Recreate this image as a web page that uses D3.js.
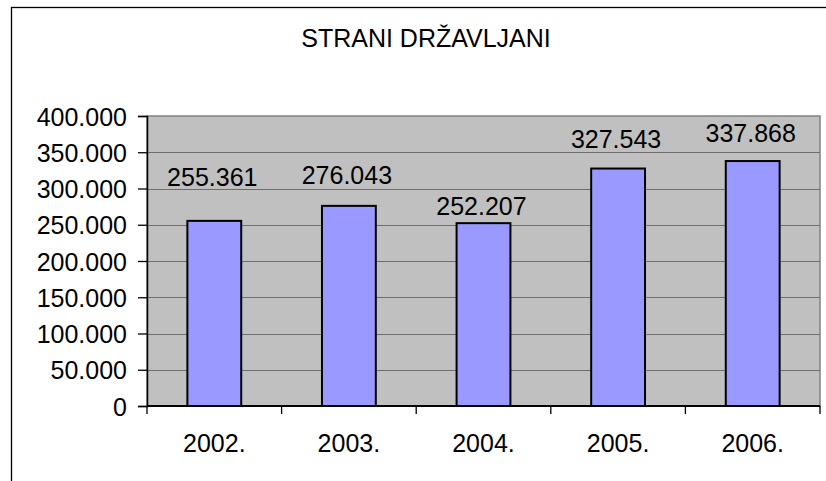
<!DOCTYPE html>
<html>
<head>
<meta charset="utf-8">
<script src="https://cdn.jsdelivr.net/npm/d3@7"></script>
<style>
  html, body { margin: 0; padding: 0; background: #fff; }
  svg { display: block; }
  text { font-family: "Liberation Sans", Arial, sans-serif; fill: #000; }
</style>
</head>
<body>
<svg id="chart" width="826" height="481"></svg>
<script>
// ---- data ----
const title = "STRANI DRŽAVLJANI";
const categories = ["2002.", "2003.", "2004.", "2005.", "2006."];
const values = [255361, 276043, 252207, 327543, 337868];
const valueLabels = ["255.361", "276.043", "252.207", "327.543", "337.868"];
const yTicks = [0, 50000, 100000, 150000, 200000, 250000, 300000, 350000, 400000];
const yTickLabels = ["0", "50.000", "100.000", "150.000", "200.000", "250.000", "300.000", "350.000", "400.000"];

// ---- layout (label lift above bar top, in px) ----
const labelLift = [34.5, 22, 8, 21, 19.5];
const plot = { left: 147, right: 820, top: 116, bottom: 406 };
const fontSize = 25;

const svg = d3.select("#chart");

// outer frame (extends beyond the window on right and bottom)
svg.append("rect")
  .attr("x", 11.5).attr("y", 7.5)
  .attr("width", 900).attr("height", 600)
  .attr("fill", "#fff").attr("stroke", "#000").attr("stroke-width", 1.3);

const x = d3.scaleBand().domain(categories).range([plot.left, plot.right]).paddingInner(0.6).paddingOuter(0.3);
const xb = d3.scaleBand().domain(categories).range([plot.left, plot.right]);
const y = d3.scaleLinear().domain([0, 400000]).range([plot.bottom, plot.top]);

// plot background
svg.append("rect")
  .attr("x", plot.left).attr("y", plot.top)
  .attr("width", plot.right - plot.left).attr("height", plot.bottom - plot.top)
  .attr("fill", "#C0C0C0").attr("stroke", "#808080").attr("stroke-width", 1.5);

// gridlines
svg.append("g").selectAll("line").data(yTicks.filter(d => d > 0 && d < 400000)).join("line")
  .attr("x1", plot.left).attr("x2", plot.right)
  .attr("y1", d => Math.round(y(d)) + 0.5).attr("y2", d => Math.round(y(d)) + 0.5)
  .attr("stroke", "#6e6e6e").attr("stroke-width", 1);

// bars
svg.append("g").selectAll("rect").data(values).join("rect")
  .attr("x", (d, i) => x(categories[i]))
  .attr("y", d => y(d))
  .attr("width", x.bandwidth())
  .attr("height", d => y(0) - y(d))
  .attr("fill", "#9999FF").attr("stroke", "#000").attr("stroke-width", 2);

// y axis
const yAxis = d3.axisLeft(y).tickValues(yTicks).tickFormat((d, i) => yTickLabels[i]).tickSizeOuter(0).tickSize(9).tickPadding(11);
const gy = svg.append("g").attr("transform", `translate(${plot.left},0)`).call(yAxis);
gy.select(".domain").attr("stroke", "#000").attr("stroke-width", 1.5);
gy.selectAll(".tick line").attr("stroke", "#000").attr("stroke-width", 1.3);
gy.selectAll(".tick text").attr("font-size", fontSize).attr("font-family", "Liberation Sans, Arial, sans-serif").attr("fill", "#000").attr("dy", "0.36em");

// x axis
const boundaries = categories.map(c => xb(c)).concat([plot.right]);
const gx = svg.append("g");
gx.append("line").attr("x1", plot.left).attr("x2", plot.right)
  .attr("y1", plot.bottom).attr("y2", plot.bottom).attr("stroke", "#000").attr("stroke-width", 1.8);
gx.selectAll("line.tk").data(boundaries).join("line").attr("class", "tk")
  .attr("x1", d => d).attr("x2", d => d)
  .attr("y1", plot.bottom).attr("y2", plot.bottom + 8)
  .attr("stroke", "#000").attr("stroke-width", 1.3);
gx.selectAll("text").data(categories).join("text")
  .attr("x", d => xb(d) + xb.bandwidth() / 2)
  .attr("y", 452)
  .attr("text-anchor", "middle")
  .attr("font-size", fontSize)
  .text(d => d);

// value labels
svg.append("g").selectAll("text").data(values).join("text")
  .attr("x", (d, i) => x(categories[i]) + x.bandwidth() / 2 - 2)
  .attr("y", (d, i) => y(d) - labelLift[i])
  .attr("text-anchor", "middle")
  .attr("font-size", fontSize)
  .text((d, i) => valueLabels[i]);

// title
svg.append("text").attr("x", 426).attr("y", 47)
  .attr("text-anchor", "middle").attr("font-size", fontSize)
  .text(title);
</script>
</body>
</html>
